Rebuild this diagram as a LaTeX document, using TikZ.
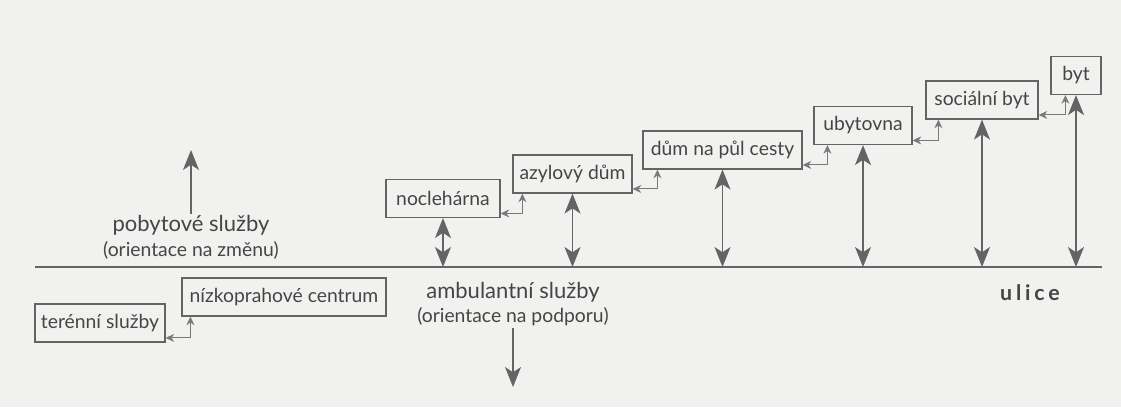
\documentclass[tikz,border=0pt]{standalone}
\usepackage{fontspec}
\setmainfont{Lato}
\newfontfamily\spacedfont[LetterSpace=18]{Lato}
\usepackage{xcolor}
\usepackage{tikz}
\usetikzlibrary{arrows.meta}

\definecolor{paper}{HTML}{F1F1F0}
\definecolor{ink}{HTML}{454545}
\definecolor{rule}{HTML}{646464}
\definecolor{thin}{HTML}{7A7A7A}

\tikzset{
  box/.style={draw=rule, line width=0.9pt, inner sep=0pt, minimum height=28.5pt,
    text=ink, font=\fontsize{14.5}{16}\selectfont},
  twoway/.style={draw=rule, line width=1.1pt,
    {Stealth[length=15pt,width=12pt,inset=4pt]}-{Stealth[length=15pt,width=12pt,inset=4pt]}},
  oneway/.style={draw=rule, line width=1.1pt, -{Stealth[length=15pt,width=12pt,inset=4pt]}},
  link/.style={draw=thin, line width=0.7pt,
    {Stealth[length=6.5pt,width=6pt]}-{Stealth[length=6.5pt,width=6pt]}},
  caption/.style={text=ink, align=center, inner sep=1pt}
}

\begin{document}
\begin{tikzpicture}[x=0.75pt,y=-0.75pt]
  % page
  \fill[paper] (0,0) rectangle (1121,407);
  \useasboundingbox (0,0) rectangle (1121,407);

  % boxes
  \node[box, minimum width=97.5pt]  (teren) at (100,323)   {terénní služby};
  \node[box, minimum width=153pt]   (nizko) at (284,297)   {nízkoprahové centrum};
  \node[box, minimum width=85.5pt]  (nocl)  at (443,198.5) {noclehárna};
  \node[box, minimum width=89.25pt] (azyl)  at (572.5,174) {azylový dům};
  \node[box, minimum width=119.25pt](dum)   at (722.5,150) {dům na půl cesty};
  \node[box, minimum width=73.5pt]  (ubyt)  at (863,125.5) {ubytovna};
  \node[box, minimum width=84pt]    (soc)   at (982,100)   {sociální byt};
  \node[box, minimum width=37.5pt]  (byt)   at (1076,75.5) {byt};

  % dividing line
  \coordinate (lineL) at (35,267);
  \coordinate (lineR) at (1102,267);
  \draw[rule, line width=1.1pt] (lineL) -- (lineR);

  % steps between neighbouring boxes
  \foreach \a/\b/\dx in {teren/nizko/9, nocl/azyl/10, azyl/dum/15,
                          dum/ubyt/14, ubyt/soc/13, soc/byt/15}
  {
    \draw[link] ([yshift=3.5pt]\a.south east) -| ([xshift=\dx*0.75pt]\b.south west);
  }

  % boxes down to the line
  \foreach \b in {nocl,azyl,dum,ubyt,soc,byt}
    \draw[twoway] (\b.south) -- (\b.south |- lineL);

  % captions
  \node[caption] (pobyt) at (191,237)
    {\fontsize{16.5}{18}\selectfont pobytové služby\\[3.5pt]
     \fontsize{14.5}{16}\selectfont (orientace na změnu)};
  \coordinate (pobytup) at (191,150);
  \draw[oneway] (pobyt.north) -- (pobytup);

  \node[caption] (ambul) at (513,304)
    {\fontsize{16.5}{18}\selectfont ambulantní služby\\[3.5pt]
     \fontsize{14.5}{16}\selectfont (orientace na podporu)};
  \coordinate (ambuldown) at (513,387);
  \draw[oneway] (ambul.south) -- (ambuldown);

  \node[text=ink, font=\spacedfont\bfseries\fontsize{16}{18}\selectfont] (ulice) at (1030,293) {ulice};
\end{tikzpicture}
\end{document}
